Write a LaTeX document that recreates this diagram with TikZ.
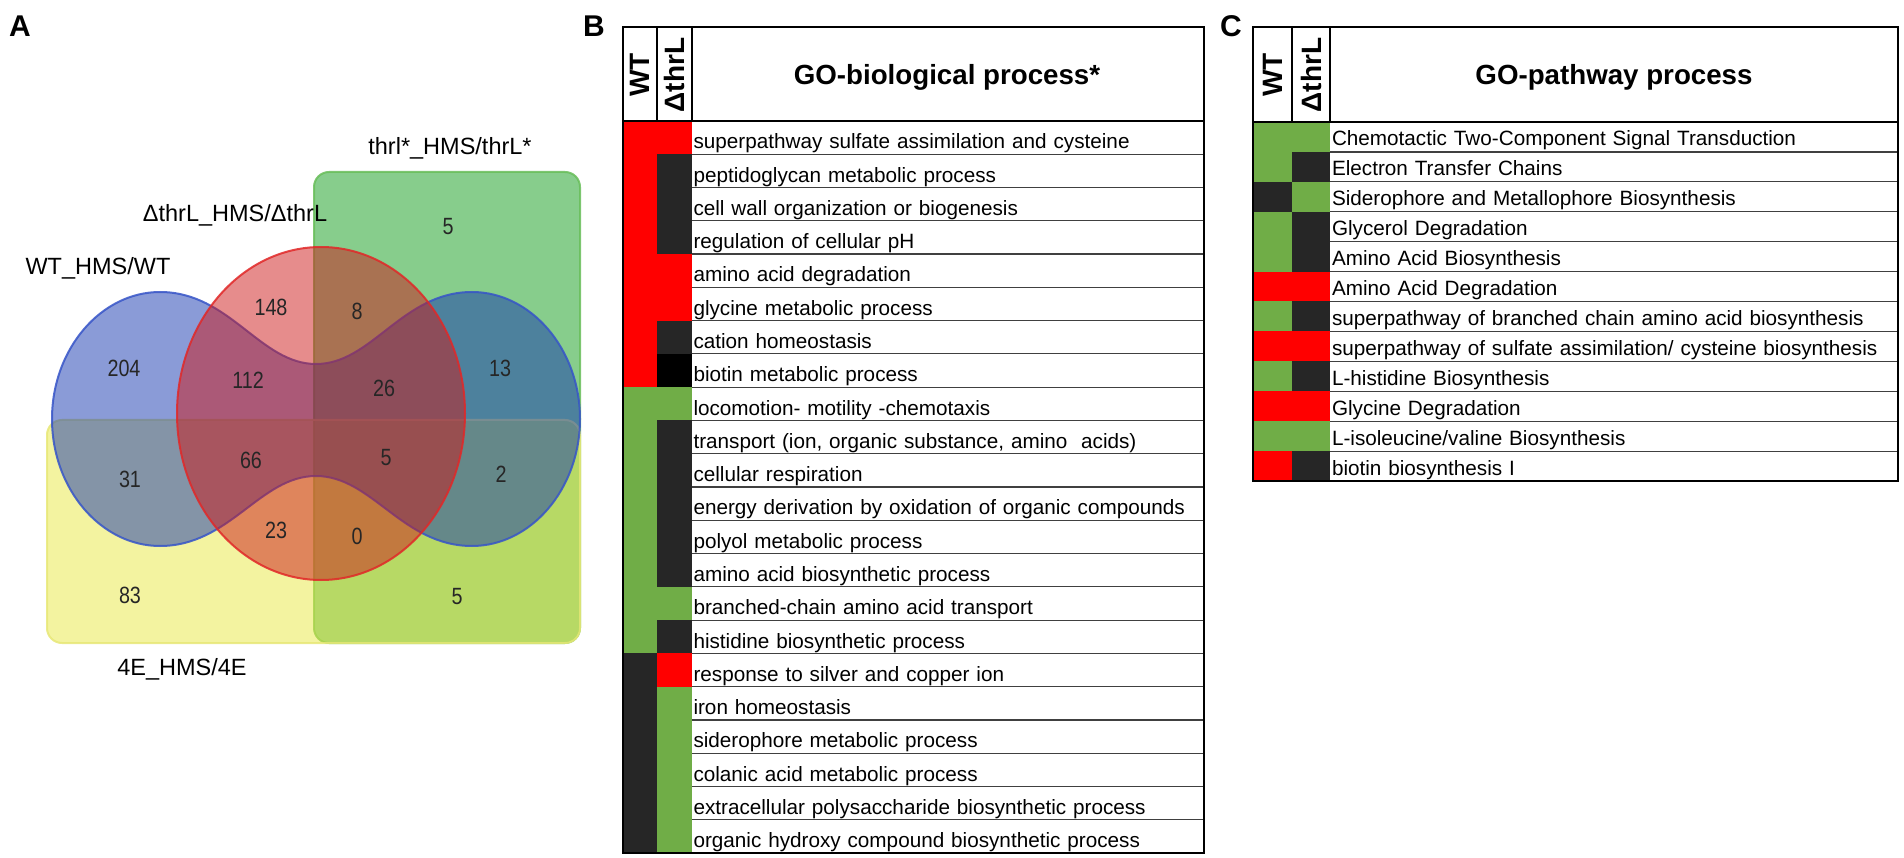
\documentclass[tikz,border=0pt]{standalone}
\usepackage{fontspec}
\setmainfont{Liberation Sans}
\usepackage{tikz}
\usepackage{graphicx}

\definecolor{vgreen}{RGB}{15,155,25}
\definecolor{vgreenline}{RGB}{105,190,90}
\definecolor{vyellow}{RGB}{231,231,65}
\definecolor{vyellowline}{RGB}{232,232,120}
\definecolor{vblue}{RGB}{21,55,175}
\definecolor{vblueline}{RGB}{55,85,200}
\definecolor{vred}{RGB}{205,25,25}
\definecolor{vredline}{RGB}{225,40,40}
\definecolor{cellred}{RGB}{255,0,0}
\definecolor{cellgreen}{RGB}{112,173,71}
\definecolor{celldark}{RGB}{38,38,38}

\newcommand{\vcount}[1]{\scalebox{0.84}[1]{#1}}

\begin{document}
\begin{tikzpicture}[x=1pt, y=-1pt]
    \tikzstyle{venn} = [line width=2pt, fill opacity=0.5, draw opacity=0.85]
    \tikzstyle{setlabel} = [inner sep=0pt, anchor=base, font=\fontsize{23.5}{28}\selectfont]
    \tikzstyle{count} = [inner sep=0pt, text=black!85, font=\fontsize{23.5}{28}\selectfont]
    \tikzstyle{panel} = [inner sep=0pt, font=\bfseries\fontsize{30}{36}\selectfont]
    \tikzstyle{frame} = [draw=black, line width=2pt]
    \tikzstyle{sep} = [draw=black, line width=1.2pt]
    \tikzstyle{colhead} = [inner sep=0pt, rotate=90, font=\bfseries\fontsize{28}{32}\selectfont]
    \tikzstyle{tabtitle} = [inner sep=0pt, anchor=base, font=\bfseries\fontsize{27.7}{32}\selectfont]
    \tikzstyle{rowline} = [draw=black!75, line width=1.2pt]
    \tikzstyle{brow} = [anchor=north west, outer sep=0pt, inner xsep=1.5pt, inner ysep=2.4pt,
        text width=509pt, text height=25.5pt, text depth=3pt, align=left,
        font=\fontsize{20.7}{24}\selectfont]
    \tikzstyle{crow} = [anchor=north west, outer sep=0pt, inner xsep=2pt, inner ysep=2pt,
        text width=564pt, text height=22pt, text depth=3.92pt, align=left,
        font=\fontsize{20.7}{24}\selectfont]

    \useasboundingbox (0,0) rectangle (1904,858);

    % Panel letters
    \node[panel] (pa) at (20,26) {A};
    \node[panel] (pb) at (594,26) {B};
    \node[panel] (pc) at (1231,26) {C};

    % Venn diagram
    \draw[venn, draw=vgreenline, fill=vgreen, rounded corners=15pt] (314,172) rectangle (580,643);
    \draw[venn, draw=vyellowline, fill=vyellow, rounded corners=15pt] (47,420) rectangle (580,643);
    \draw[venn, draw=vblueline, fill=vblue] (52,419) .. controls (52,349) and (101,292) .. (160,292)
        .. controls (230,292) and (260,364) .. (316,364) .. controls (372,364) and (402,292) .. (472,292)
        .. controls (531,292) and (580,349) .. (580,419) .. controls (580,489) and (531,546) .. (472,546)
        .. controls (402,546) and (372,476) .. (316,476) .. controls (260,476) and (230,546) .. (160,546)
        .. controls (101,546) and (52,489) .. cycle;
    \draw[venn, draw=vredline, fill=vred] (321,413.5) ellipse [x radius=144pt, y radius=166.5pt];

    % Set labels
    \node[setlabel] (lthr) at (450,155) {thrl*\_HMS/thrL*};
    \node[setlabel] (ldel) at (235,222) {ΔthrL\_HMS/ΔthrL};
    \node[setlabel] (lwt) at (98,275) {WT\_HMS/WT};
    \node[setlabel] (l4e) at (182,675) {4E\_HMS/4E};

    % Counts
    \node[count] (n5a) at (448,227) {\vcount{5}};
    \node[count] (n148) at (271,307) {\vcount{148}};
    \node[count] (n8) at (357,311) {\vcount{8}};
    \node[count] (n204) at (124,368) {\vcount{204}};
    \node[count] (n112) at (248,380) {\vcount{112}};
    \node[count] (n26) at (384,388) {\vcount{26}};
    \node[count] (n13) at (500,368) {\vcount{13}};
    \node[count] (n66) at (251,460) {\vcount{66}};
    \node[count] (n5b) at (386,458) {\vcount{5}};
    \node[count] (n31) at (130,479) {\vcount{31}};
    \node[count] (n2) at (501,474) {\vcount{2}};
    \node[count] (n23) at (276,530) {\vcount{23}};
    \node[count] (n0) at (357,536) {\vcount{0}};
    \node[count] (n83) at (130,595) {\vcount{83}};
    \node[count] (n5c) at (457,597) {\vcount{5}};

    % Table B: cells
    \fill[cellred] (623,121.0) rectangle (657,387.2);
    \fill[cellgreen] (623,387.2) rectangle (657,653.3);
    \fill[celldark] (623,653.3) rectangle (657,853.0);
    \fill[cellred] (657,121.0) rectangle (692,154.3);
    \fill[celldark] (657,154.3) rectangle (692,254.1);
    \fill[cellred] (657,254.1) rectangle (692,320.6);
    \fill[celldark] (657,320.6) rectangle (692,353.9);
    \fill[black] (657,353.9) rectangle (692,387.2);
    \fill[cellgreen] (657,387.2) rectangle (692,420.4);
    \fill[celldark] (657,420.4) rectangle (692,586.8);
    \fill[cellgreen] (657,586.8) rectangle (692,620.1);
    \fill[celldark] (657,620.1) rectangle (692,653.3);
    \fill[cellred] (657,653.3) rectangle (692,686.6);
    \fill[cellgreen] (657,686.6) rectangle (692,853.0);

    % Table B: rows
    \node[brow] (b1) at (692,121.0) {superpathway sulfate assimilation and cysteine}; \draw[rowline] (b1.south west) -- (b1.south east);
    \node[brow] (b2) at (692,154.3) {peptidoglycan metabolic process}; \draw[rowline] (b2.south west) -- (b2.south east);
    \node[brow] (b3) at (692,187.5) {cell wall organization or biogenesis}; \draw[rowline] (b3.south west) -- (b3.south east);
    \node[brow] (b4) at (692,220.8) {regulation of cellular pH}; \draw[rowline] (b4.south west) -- (b4.south east);
    \node[brow] (b5) at (692,254.1) {amino acid degradation}; \draw[rowline] (b5.south west) -- (b5.south east);
    \node[brow] (b6) at (692,287.4) {glycine metabolic process}; \draw[rowline] (b6.south west) -- (b6.south east);
    \node[brow] (b7) at (692,320.6) {cation homeostasis}; \draw[rowline] (b7.south west) -- (b7.south east);
    \node[brow] (b8) at (692,353.9) {biotin metabolic process}; \draw[rowline] (b8.south west) -- (b8.south east);
    \node[brow] (b9) at (692,387.2) {locomotion- motility -chemotaxis}; \draw[rowline] (b9.south west) -- (b9.south east);
    \node[brow] (b10) at (692,420.4) {transport (ion, organic substance, amino~ acids)}; \draw[rowline] (b10.south west) -- (b10.south east);
    \node[brow] (b11) at (692,453.7) {cellular respiration}; \draw[rowline] (b11.south west) -- (b11.south east);
    \node[brow] (b12) at (692,487.0) {energy derivation by oxidation of organic compounds}; \draw[rowline] (b12.south west) -- (b12.south east);
    \node[brow] (b13) at (692,520.2) {polyol metabolic process}; \draw[rowline] (b13.south west) -- (b13.south east);
    \node[brow] (b14) at (692,553.5) {amino acid biosynthetic process}; \draw[rowline] (b14.south west) -- (b14.south east);
    \node[brow] (b15) at (692,586.8) {branched-chain amino acid transport}; \draw[rowline] (b15.south west) -- (b15.south east);
    \node[brow] (b16) at (692,620.1) {histidine biosynthetic process}; \draw[rowline] (b16.south west) -- (b16.south east);
    \node[brow] (b17) at (692,653.3) {response to silver and copper ion}; \draw[rowline] (b17.south west) -- (b17.south east);
    \node[brow] (b18) at (692,686.6) {iron homeostasis}; \draw[rowline] (b18.south west) -- (b18.south east);
    \node[brow] (b19) at (692,719.9) {siderophore metabolic process}; \draw[rowline] (b19.south west) -- (b19.south east);
    \node[brow] (b20) at (692,753.1) {colanic acid metabolic process}; \draw[rowline] (b20.south west) -- (b20.south east);
    \node[brow] (b21) at (692,786.4) {extracellular polysaccharide biosynthetic process}; \draw[rowline] (b21.south west) -- (b21.south east);
    \node[brow] (b22) at (692,819.7) {organic hydroxy compound biosynthetic process};

    % Table B: header and frame
    \draw[sep] (657,27) -- (657,121);
    \draw[sep] (692,27) -- (692,121);
    \node[colhead] (bwt) at (640,75) {WT};
    \node[colhead] (bdel) at (674.5,75) {ΔthrL};
    \node[tabtitle] (btitle) at (947,85) {GO-biological process*};
    \draw[frame] (623,121) -- (1204,121);
    \draw[frame] (623,27) rectangle (1204,853);

    % Table C: cells
    \fill[cellgreen] (1253,122.0) rectangle (1292,181.8);
    \fill[celldark] (1253,181.8) rectangle (1292,211.8);
    \fill[cellgreen] (1253,211.8) rectangle (1292,271.6);
    \fill[cellred] (1253,271.6) rectangle (1330,301.5);
    \fill[cellgreen] (1253,301.5) rectangle (1292,331.4);
    \fill[cellred] (1253,331.4) rectangle (1330,361.3);
    \fill[cellgreen] (1253,361.3) rectangle (1292,391.3);
    \fill[cellred] (1253,391.3) rectangle (1330,421.2);
    \fill[cellgreen] (1253,421.2) rectangle (1330,451.1);
    \fill[cellred] (1253,451.1) rectangle (1292,481.0);
    \fill[cellgreen] (1292,122.0) rectangle (1330,151.9);
    \fill[celldark] (1292,151.9) rectangle (1330,181.8);
    \fill[cellgreen] (1292,181.8) rectangle (1330,211.8);
    \fill[celldark] (1292,211.8) rectangle (1330,271.6);
    \fill[celldark] (1292,301.5) rectangle (1330,331.4);
    \fill[celldark] (1292,361.3) rectangle (1330,391.3);
    \fill[celldark] (1292,451.1) rectangle (1330,481.0);

    % Table C: rows
    \node[crow] (c1) at (1330,122.0) {Chemotactic Two-Component Signal Transduction}; \draw[rowline] (c1.south west) -- (c1.south east);
    \node[crow] (c2) at (1330,151.9) {Electron Transfer Chains}; \draw[rowline] (c2.south west) -- (c2.south east);
    \node[crow] (c3) at (1330,181.8) {Siderophore and Metallophore Biosynthesis}; \draw[rowline] (c3.south west) -- (c3.south east);
    \node[crow] (c4) at (1330,211.8) {Glycerol Degradation}; \draw[rowline] (c4.south west) -- (c4.south east);
    \node[crow] (c5) at (1330,241.7) {Amino Acid Biosynthesis}; \draw[rowline] (c5.south west) -- (c5.south east);
    \node[crow] (c6) at (1330,271.6) {Amino Acid Degradation}; \draw[rowline] (c6.south west) -- (c6.south east);
    \node[crow] (c7) at (1330,301.5) {superpathway of branched chain amino acid biosynthesis}; \draw[rowline] (c7.south west) -- (c7.south east);
    \node[crow] (c8) at (1330,331.4) {superpathway of sulfate assimilation/ cysteine biosynthesis}; \draw[rowline] (c8.south west) -- (c8.south east);
    \node[crow] (c9) at (1330,361.3) {L-histidine Biosynthesis}; \draw[rowline] (c9.south west) -- (c9.south east);
    \node[crow] (c10) at (1330,391.3) {Glycine Degradation}; \draw[rowline] (c10.south west) -- (c10.south east);
    \node[crow] (c11) at (1330,421.2) {L-isoleucine/valine Biosynthesis}; \draw[rowline] (c11.south west) -- (c11.south east);
    \node[crow] (c12) at (1330,451.1) {biotin biosynthesis I};

    % Table C: header and frame
    \draw[sep] (1292,27) -- (1292,122);
    \draw[sep] (1330,27) -- (1330,122);
    \node[colhead] (cwt) at (1272.5,75) {WT};
    \node[colhead] (cdel) at (1311,75) {ΔthrL};
    \node[tabtitle] (ctitle) at (1614,85) {GO-pathway process};
    \draw[frame] (1253,122) -- (1898,122);
    \draw[frame] (1253,27) rectangle (1898,481);
\end{tikzpicture}
\end{document}
